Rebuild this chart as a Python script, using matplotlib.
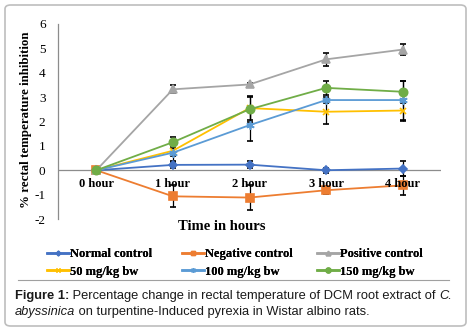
import matplotlib
matplotlib.use("Agg")
import matplotlib.pyplot as plt
from matplotlib.patches import FancyBboxPatch
from matplotlib.lines import Line2D

plt.rcParams['axes.unicode_minus'] = False

# data
hours = ['0 hour', '1 hour', '2 hour', '3 hour', '4 hour']
series_names = ['Normal control', 'Negative control', 'Positive control',
                '50 mg/kg bw', '100 mg/kg bw', '150 mg/kg bw']
normal = [0, 0.22, 0.23, 0.0, 0.07]
normal_err = [0, 0.12, 0.13, 0.1, 0.3]
negative = [0, -1.07, -1.12, -0.82, -0.62]
negative_err = [0, 0.45, 0.5, 0.17, 0.4]
positive = [0, 3.32, 3.52, 4.55, 4.95]
positive_err = [0, 0.16, 0.08, 0.28, 0.22]
dose50 = [0, 0.8, 2.55, 2.4, 2.45]
dose50_err = [0, 0.2, 0.5, 0.5, 0.42]
dose100 = [0, 0.72, 1.85, 2.88, 2.88]
dose100_err = [0, 0.35, 0.65, 0.12, 0.8]
dose150 = [0, 1.15, 2.5, 3.38, 3.22]
dose150_err = [0, 0.22, 0.5, 0.3, 0.45]

values = [normal, negative, positive, dose50, dose100, dose150]
errors = [normal_err, negative_err, positive_err, dose50_err, dose100_err, dose150_err]
colors = ['#4472C4', '#ED7D31', '#A5A5A5', '#FFC000', '#5B9BD5', '#70AD47']
markers = ['D', 's', '^', 'x', (6, 2, 0), 'o']
msizes = [4, 5.5, 5.5, 5, 6, 6]

serif = 'Liberation Serif'
sans = 'Liberation Sans'

fig = plt.figure(figsize=(4.71, 3.31), dpi=100)
W, H = 471, 331

# card border
card = FancyBboxPatch((5 / W, 5 / H), 461 / W, 321 / H,
                      boxstyle='round,pad=0,rounding_size=0.012',
                      transform=fig.transFigure, facecolor='white',
                      edgecolor='#BEBEBE', linewidth=1.2, zorder=-10)
fig.patches.append(card)

ax = fig.add_axes([58 / W, 1 - 219 / H, 383 / W, 195 / H])
ax.set_facecolor('none')
x = list(range(len(hours)))
for v, e, c, m, ms in zip(values, errors, colors, markers, msizes):
    ax.errorbar(x, v, yerr=e, color=c, marker=m, markersize=ms, lw=1.3,
                mew=1.2, ecolor='black', elinewidth=0.9, capsize=2.5, capthick=0.9,
                zorder=3)

ax.set_xlim(-0.5, 4.5)
ax.set_ylim(-2, 6)
ax.set_yticks(range(-2, 7))
ax.set_xticks([])
ax.axhline(0, color='#8C8C8C', lw=0.9, zorder=1)
for s in ['top', 'right', 'bottom']:
    ax.spines[s].set_visible(False)
ax.spines['left'].set_color('#8C8C8C')
ax.spines['left'].set_linewidth(0.9)
ax.tick_params(axis='y', length=0, pad=9, labelsize=9.5)
for t in ax.get_yticklabels():
    t.set_fontfamily(serif)

for i, h in enumerate(hours):
    ax.annotate(h, (i, 0), xytext=(0, -10), textcoords='offset points',
                ha='center', va='center', fontsize=9, fontweight='bold',
                fontfamily=serif, zorder=4)

fig.text(26 / W, 1 - 120 / H, '% rectal temperature inhibition', rotation=90,
         ha='center', va='center', fontsize=9.3, fontweight='bold', fontfamily=serif)
fig.text(222 / W, 1 - 227 / H, 'Time in hours', ha='center', va='center',
         fontsize=10.5, fontweight='bold', fontfamily=serif)

handles = [Line2D([], [], color=c, marker=m, markersize=ms * 0.6, lw=1.8)
           for c, m, ms in zip(colors, markers, msizes)]
# Excel-style legend: three equal-width columns, filled row by row
col_left = [47, 182, 317]
for col in range(3):
    idx = [col, col + 3]
    leg = fig.legend([handles[i] for i in idx], [series_names[i] for i in idx],
                     loc='upper left', bbox_to_anchor=(col_left[col] / W, 1 - 248 / H),
                     frameon=False, borderpad=0, borderaxespad=0,
                     prop={'family': serif, 'weight': 'bold', 'size': 9},
                     handlelength=1.75, handletextpad=0.1, labelspacing=0.45)
    fig.add_artist(leg)

fig.add_artist(Line2D([18 / W, 449 / W], [1 - 280 / H, 1 - 280 / H],
                      transform=fig.transFigure, color='#A0A0A0', lw=0.8))

# caption with mixed styles
fig.canvas.draw()
renderer = fig.canvas.get_renderer()

def write_run(parts, x0, y0):
    xp = x0
    for txt, weight, style in parts:
        t = fig.text(xp / W, 1 - y0 / H, txt, ha='left', va='center',
                     fontsize=9.3, fontweight=weight, fontstyle=style,
                     fontfamily=sans, color='#1a1a1a')
        bb = t.get_window_extent(renderer=renderer)
        xp += bb.width

write_run([('Figure 1:', 'bold', 'normal'),
           (' Percentage change in rectal temperature of DCM root extract of ', 'normal', 'normal'),
           ('C.', 'normal', 'italic')], 15, 296)
write_run([('abyssinica', 'normal', 'italic'),
           (' on turpentine-Induced pyrexia in Wistar albino rats.', 'normal', 'normal')], 15, 312)

fig.savefig('out.png', dpi=100)
